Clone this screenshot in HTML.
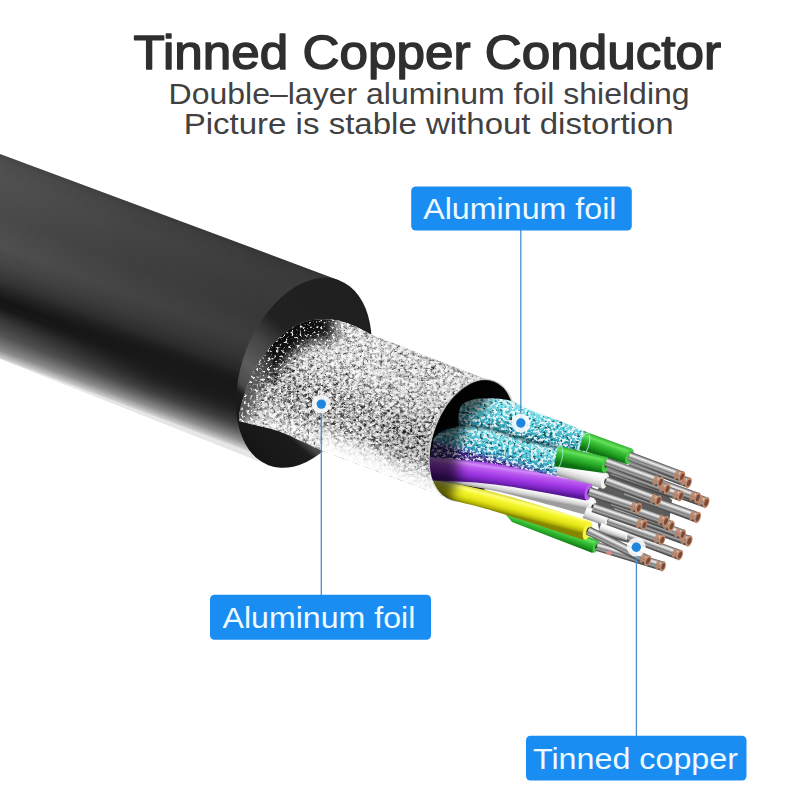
<!DOCTYPE html>
<html><head><meta charset="utf-8"><title>Tinned Copper Conductor</title>
<style>html,body{margin:0;padding:0;background:#fff;width:800px;height:800px;overflow:hidden}svg{display:block}</style>
</head><body>
<svg width="800" height="800" viewBox="0 0 800 800">
<defs>
<linearGradient id="gBody" gradientUnits="userSpaceOnUse" x1="0" y1="154" x2="-67.2" y2="333.9">
<stop offset="0" stop-color="#4a4a4a"/><stop offset="0.03" stop-color="#525252"/><stop offset="0.12" stop-color="#565656"/>
<stop offset="0.30" stop-color="#505050"/><stop offset="0.45" stop-color="#575757"/><stop offset="0.55" stop-color="#494949"/>
<stop offset="0.62" stop-color="#383838"/><stop offset="0.67" stop-color="#262626"/><stop offset="0.71" stop-color="#171717"/><stop offset="0.75" stop-color="#1a1a1a"/>
<stop offset="0.81" stop-color="#3a3a3a"/><stop offset="0.883" stop-color="#575757"/><stop offset="0.956" stop-color="#8a8a8a"/><stop offset="0.993" stop-color="#cccccc"/><stop offset="1" stop-color="#e6e6e6"/>
</linearGradient>
<linearGradient id="gBodyX" gradientUnits="userSpaceOnUse" x1="0" y1="0" x2="330" y2="124">
<stop offset="0" stop-color="#000" stop-opacity="0"/><stop offset="0.3" stop-color="#000" stop-opacity="0.1"/><stop offset="0.6" stop-color="#000" stop-opacity="0.2"/><stop offset="1" stop-color="#000" stop-opacity="0.3"/>
</linearGradient>
<linearGradient id="gFace" gradientUnits="userSpaceOnUse" x1="340" y1="280" x2="268" y2="466">
<stop offset="0" stop-color="#1f1f1f"/><stop offset="0.4" stop-color="#212121"/><stop offset="0.52" stop-color="#444"/><stop offset="0.66" stop-color="#5c5c5c"/><stop offset="0.75" stop-color="#4a4a4a"/><stop offset="0.79" stop-color="#1c1c1c"/><stop offset="1" stop-color="#141414"/>
</linearGradient>
<linearGradient id="gMaskB" gradientUnits="userSpaceOnUse" x1="0" y1="154" x2="-67.2" y2="333.9"><stop offset="0" stop-color="#fff"/><stop offset="0.66" stop-color="#fff"/><stop offset="0.8" stop-color="#000"/><stop offset="1" stop-color="#000"/></linearGradient>
<mask id="mBody" maskUnits="userSpaceOnUse" x="-10" y="100" width="400" height="420"><rect x="-10" y="100" width="400" height="420" fill="url(#gMaskB)"/></mask>
<linearGradient id="gMaskB2" gradientUnits="userSpaceOnUse" x1="0" y1="154" x2="-67.2" y2="333.9"><stop offset="0" stop-color="#000"/><stop offset="0.62" stop-color="#000"/><stop offset="0.71" stop-color="#fff"/><stop offset="0.8" stop-color="#fff"/><stop offset="0.95" stop-color="#000"/><stop offset="1" stop-color="#000"/></linearGradient>
<mask id="mBody2" maskUnits="userSpaceOnUse" x="-10" y="100" width="400" height="420"><rect x="-10" y="100" width="400" height="420" fill="url(#gMaskB2)"/></mask>
<linearGradient id="gBodyX2" gradientUnits="userSpaceOnUse" x1="110" y1="0" x2="270" y2="60"><stop offset="0" stop-color="#1a1a1a" stop-opacity="0"/><stop offset="0.5" stop-color="#1a1a1a" stop-opacity="0.4"/><stop offset="1" stop-color="#1a1a1a" stop-opacity="0.85"/></linearGradient>
<filter id="fDark" x="0" y="0" width="1" height="1" color-interpolation-filters="sRGB">
<feTurbulence type="fractalNoise" baseFrequency="0.3 0.34" numOctaves="2" seed="4"/>
<feColorMatrix type="matrix" values="0 0 0 0 0  0 0 0 0 0  0 0 0 0 0  7 0 0 0 -3.9"/>
<feComposite operator="in" in2="SourceGraphic"/></filter>
<filter id="fDark2" x="0" y="0" width="1" height="1" color-interpolation-filters="sRGB">
<feTurbulence type="fractalNoise" baseFrequency="0.22 0.26" numOctaves="2" seed="11"/>
<feColorMatrix type="matrix" values="0 0 0 0 0  0 0 0 0 0  0 0 0 0 0  0 6 0 0 -3.1"/>
<feComposite operator="in" in2="SourceGraphic"/></filter>
<filter id="fLight" x="0" y="0" width="1" height="1" color-interpolation-filters="sRGB">
<feTurbulence type="fractalNoise" baseFrequency="0.32 0.36" numOctaves="2" seed="23"/>
<feColorMatrix type="matrix" values="0 0 0 0 1  0 0 0 0 1  0 0 0 0 1  0 0 7 0 -3.3"/>
<feComposite operator="in" in2="SourceGraphic"/></filter>
<filter id="fLight2" x="0" y="0" width="1" height="1" color-interpolation-filters="sRGB">
<feTurbulence type="fractalNoise" baseFrequency="0.34 0.38" numOctaves="2" seed="57"/>
<feColorMatrix type="matrix" values="0 0 0 0 1  0 0 0 0 1  0 0 0 0 1  0 7 0 0 -3.95"/>
<feComposite operator="in" in2="SourceGraphic"/></filter>
<filter id="fCrease" x="0" y="0" width="1" height="1" color-interpolation-filters="sRGB">
<feTurbulence type="turbulence" baseFrequency="0.11 0.13" numOctaves="3" seed="5"/>
<feColorMatrix type="matrix" values="0 0 0 0 0  0 0 0 0 0  0 0 0 0 0  -7 0 0 0 1.25"/>
<feComposite operator="in" in2="SourceGraphic"/></filter>
<filter id="fGrey" x="0" y="0" width="1" height="1" color-interpolation-filters="sRGB">
<feTurbulence type="fractalNoise" baseFrequency="0.25 0.3" numOctaves="3" seed="8"/>
<feColorMatrix type="matrix" values="2.4 0 0 0 -0.45  2.4 0 0 0 -0.45  2.4 0 0 0 -0.45  0 0 0 0 1"/>
<feComposite operator="in" in2="SourceGraphic"/></filter>
<clipPath id="cFoil"><path d="M371,334.4 C367.8,332.8 358,327.4 352,325 C346,322.6 340.7,320.9 335,320 C329.3,319.1 323.5,319 318,319.5 C312.5,320 307.2,321.1 302,323 C296.8,324.9 291.5,327.8 287,331 C282.5,334.2 278.7,338.2 275,342 C271.3,345.8 268.3,349.7 265,354 C261.7,358.3 258.2,362 255,368 C251.8,374 248.4,383.3 246,390 C243.6,396.7 241.7,402.8 240.5,408 C239.3,413.2 239.2,418.8 239,421 L239,421 C241.7,421.7 249.5,423.7 255,425 C260.5,426.3 266.8,427.5 272,429 C277.2,430.5 281.3,432.1 286,434 C290.7,435.9 295.7,438.6 300,440.6 C304.3,442.6 308.2,444.3 312,446 C315.8,447.7 320.8,450.2 322.5,451 L450,498.8 L495,382.8 Z"/></clipPath>
<clipPath id="cFace"><ellipse cx="303.9" cy="372.8" rx="62" ry="99" transform="rotate(21 303.9 372.8)"/><path d="M330,250 L520,330 L470,540 L290,470 Z"/></clipPath>
<filter id="fBlur6" x="-0.3" y="-0.3" width="1.6" height="1.6"><feGaussianBlur stdDeviation="6"/></filter>
<filter id="fBlur1" x="-0.2" y="-0.5" width="1.4" height="2"><feGaussianBlur stdDeviation="0.8"/></filter>
<filter id="fBlur3" x="-0.3" y="-0.3" width="1.6" height="1.6"><feGaussianBlur stdDeviation="3"/></filter>
<linearGradient id="g1" gradientUnits="userSpaceOnUse" x1="371" y1="334" x2="323.6" y2="455"><stop offset="0" stop-color="#d0d0d0"/><stop offset="0.04" stop-color="#f0f0f0"/><stop offset="0.3" stop-color="#ebebeb"/><stop offset="0.48" stop-color="#d0d0d0"/><stop offset="0.64" stop-color="#9c9c9c"/><stop offset="0.76" stop-color="#b0b0b0"/><stop offset="0.86" stop-color="#ececec"/><stop offset="0.95" stop-color="#fafafa"/><stop offset="1" stop-color="#fff"/></linearGradient>
<linearGradient id="g2" gradientUnits="userSpaceOnUse" x1="371" y1="330" x2="322.2" y2="450.5"><stop offset="0" stop-color="#000" stop-opacity="0.15"/><stop offset="0.3" stop-color="#000" stop-opacity="0.25"/><stop offset="0.6" stop-color="#000" stop-opacity="0.6"/><stop offset="0.8" stop-color="#000" stop-opacity="0.45"/><stop offset="1" stop-color="#000" stop-opacity="0.15"/></linearGradient>
<linearGradient id="g3" gradientUnits="userSpaceOnUse" x1="371" y1="330" x2="322.2" y2="450.5"><stop offset="0" stop-color="#000" stop-opacity="0.1"/><stop offset="0.35" stop-color="#000" stop-opacity="0.2"/><stop offset="0.62" stop-color="#000" stop-opacity="0.75"/><stop offset="0.8" stop-color="#000" stop-opacity="0.4"/><stop offset="1" stop-color="#000" stop-opacity="0.1"/></linearGradient>
<linearGradient id="g4" gradientUnits="userSpaceOnUse" x1="371" y1="330" x2="322.2" y2="450.5"><stop offset="0" stop-color="#fff" stop-opacity="0"/><stop offset="0.8" stop-color="#fff" stop-opacity="0"/><stop offset="0.93" stop-color="#fff" stop-opacity="0.75"/><stop offset="1" stop-color="#fff" stop-opacity="1"/></linearGradient>
<clipPath id="cWire"><ellipse cx="472.2" cy="440.4" rx="39.2" ry="63.2" transform="rotate(20.4 472.2 440.4)"/><path d="M598.8,100 L494.2,381.1 L450.2,499.7 L380.5,687.2 L800,700 L800,90 Z"/></clipPath>
<linearGradient id="g5" gradientUnits="userSpaceOnUse" x1="507.5" y1="400" x2="497.9" y2="439.7"><stop offset="0" stop-color="#8fe6ee"/><stop offset="0.25" stop-color="#6ad8e4"/><stop offset="0.55" stop-color="#3fb8cc"/><stop offset="0.8" stop-color="#2c8ea6"/><stop offset="1" stop-color="#1c5870"/></linearGradient>
<clipPath id="c6"><path d="M458.5,415 C459,413.4 459.6,407.9 461.5,405.5 C463.4,403.1 466.5,401.7 470,400.5 C473.5,399.3 476.2,398.6 482.5,398.5 C488.8,398.4 499.6,398.1 507.5,400 C515.4,401.9 521.2,406.5 530,410 C538.8,413.5 550.4,417.2 560,421 C569.6,424.8 582.9,430.6 587.5,432.5 L580,460 C576.7,459.2 568.3,457 560,455 C551.7,453 538.8,450.2 530,448 C521.2,445.8 515.4,443.3 507.5,442 C499.6,440.7 490.1,441.3 482.5,440 C474.9,438.7 466,437.3 462,434 C458,430.7 459.1,422.3 458.5,420 Z"/></clipPath>
<linearGradient id="g7" gradientUnits="userSpaceOnUse" x1="690.2" y1="478.1" x2="686.8" y2="487.5"><stop offset="0" stop-color="#505050"/><stop offset="0.12" stop-color="#a0a0a0"/><stop offset="0.28" stop-color="#f2f2f2"/><stop offset="0.42" stop-color="#bcbcbc"/><stop offset="0.56" stop-color="#7c7c7c"/><stop offset="0.7" stop-color="#a6a6a6"/><stop offset="0.86" stop-color="#5a5a5a"/><stop offset="1" stop-color="#363636"/></linearGradient>
<linearGradient id="g8" gradientUnits="userSpaceOnUse" x1="632.1" y1="448.7" x2="626.5" y2="464.2"><stop offset="0" stop-color="#2fae2f"/><stop offset="0.22" stop-color="#66e25a"/><stop offset="0.42" stop-color="#3cc43a"/><stop offset="0.7" stop-color="#22a022"/><stop offset="1" stop-color="#0b6e12"/></linearGradient>
<linearGradient id="g9" gradientUnits="userSpaceOnUse" x1="683.6" y1="471.8" x2="680.1" y2="481.2"><stop offset="0" stop-color="#505050"/><stop offset="0.12" stop-color="#a0a0a0"/><stop offset="0.28" stop-color="#f2f2f2"/><stop offset="0.42" stop-color="#bcbcbc"/><stop offset="0.56" stop-color="#7c7c7c"/><stop offset="0.7" stop-color="#a6a6a6"/><stop offset="0.86" stop-color="#5a5a5a"/><stop offset="1" stop-color="#363636"/></linearGradient>
<linearGradient id="g10" gradientUnits="userSpaceOnUse" x1="707.7" y1="497.5" x2="704.3" y2="507.5"><stop offset="0" stop-color="#505050"/><stop offset="0.12" stop-color="#a0a0a0"/><stop offset="0.28" stop-color="#f2f2f2"/><stop offset="0.42" stop-color="#bcbcbc"/><stop offset="0.56" stop-color="#7c7c7c"/><stop offset="0.7" stop-color="#a6a6a6"/><stop offset="0.86" stop-color="#5a5a5a"/><stop offset="1" stop-color="#363636"/></linearGradient>
<linearGradient id="g11" gradientUnits="userSpaceOnUse" x1="699.2" y1="493.1" x2="695.8" y2="502.5"><stop offset="0" stop-color="#505050"/><stop offset="0.12" stop-color="#a0a0a0"/><stop offset="0.28" stop-color="#f2f2f2"/><stop offset="0.42" stop-color="#bcbcbc"/><stop offset="0.56" stop-color="#7c7c7c"/><stop offset="0.7" stop-color="#a6a6a6"/><stop offset="0.86" stop-color="#5a5a5a"/><stop offset="1" stop-color="#363636"/></linearGradient>
<linearGradient id="g12" gradientUnits="userSpaceOnUse" x1="607.2" y1="473.3" x2="602.6" y2="488.6"><stop offset="0" stop-color="#dcdcdc"/><stop offset="0.22" stop-color="#ffffff"/><stop offset="0.5" stop-color="#f2f2f2"/><stop offset="0.8" stop-color="#cfcfcf"/><stop offset="1" stop-color="#9c9c9c"/></linearGradient>
<linearGradient id="g13" gradientUnits="userSpaceOnUse" x1="495" y1="430" x2="486.6" y2="460.4"><stop offset="0" stop-color="#86e2ec"/><stop offset="0.3" stop-color="#5ed2e2"/><stop offset="0.62" stop-color="#3cb0c8"/><stop offset="0.8" stop-color="#3a94c0"/><stop offset="0.91" stop-color="#4a58b0"/><stop offset="1" stop-color="#40288a"/></linearGradient>
<clipPath id="c14"><path d="M434,438 C435,437.1 437.3,434.1 440,432.5 C442.7,430.9 446.2,429.6 450,428.5 C453.8,427.4 457.8,426.2 462.5,426 C467.2,425.8 472.6,426.3 478,427 C483.4,427.7 487.2,427.8 495,430 C502.8,432.2 514.2,437 525,440 C535.8,443 554.2,446.7 560,448 L556,477 C550.8,476 535.2,473 525,471 C514.8,469 505.8,466.8 495,465 C484.2,463.2 470.8,461.7 460,460.5 C449.2,459.3 435,458.4 430,458 Z"/></clipPath>
<linearGradient id="g15" gradientUnits="userSpaceOnUse" x1="607" y1="456.9" x2="603.3" y2="473"><stop offset="0" stop-color="#2fae2f"/><stop offset="0.22" stop-color="#66e25a"/><stop offset="0.42" stop-color="#3cc43a"/><stop offset="0.7" stop-color="#22a022"/><stop offset="1" stop-color="#0b6e12"/></linearGradient>
<linearGradient id="g16" gradientUnits="userSpaceOnUse" x1="699.3" y1="512.6" x2="695.8" y2="522.5"><stop offset="0" stop-color="#505050"/><stop offset="0.12" stop-color="#a0a0a0"/><stop offset="0.28" stop-color="#f2f2f2"/><stop offset="0.42" stop-color="#bcbcbc"/><stop offset="0.56" stop-color="#7c7c7c"/><stop offset="0.7" stop-color="#a6a6a6"/><stop offset="0.86" stop-color="#5a5a5a"/><stop offset="1" stop-color="#363636"/></linearGradient>
<linearGradient id="g17" gradientUnits="userSpaceOnUse" x1="690.8" y1="536.1" x2="687.3" y2="546"><stop offset="0" stop-color="#505050"/><stop offset="0.12" stop-color="#a0a0a0"/><stop offset="0.28" stop-color="#f2f2f2"/><stop offset="0.42" stop-color="#bcbcbc"/><stop offset="0.56" stop-color="#7c7c7c"/><stop offset="0.7" stop-color="#a6a6a6"/><stop offset="0.86" stop-color="#5a5a5a"/><stop offset="1" stop-color="#363636"/></linearGradient>
<linearGradient id="g18" gradientUnits="userSpaceOnUse" x1="684.2" y1="529.7" x2="680.8" y2="539.1"><stop offset="0" stop-color="#505050"/><stop offset="0.12" stop-color="#a0a0a0"/><stop offset="0.28" stop-color="#f2f2f2"/><stop offset="0.42" stop-color="#bcbcbc"/><stop offset="0.56" stop-color="#7c7c7c"/><stop offset="0.7" stop-color="#a6a6a6"/><stop offset="0.86" stop-color="#5a5a5a"/><stop offset="1" stop-color="#363636"/></linearGradient>
<linearGradient id="g19" gradientUnits="userSpaceOnUse" x1="682.3" y1="491.3" x2="679" y2="500.7"><stop offset="0" stop-color="#505050"/><stop offset="0.12" stop-color="#a0a0a0"/><stop offset="0.28" stop-color="#f2f2f2"/><stop offset="0.42" stop-color="#bcbcbc"/><stop offset="0.56" stop-color="#7c7c7c"/><stop offset="0.7" stop-color="#a6a6a6"/><stop offset="0.86" stop-color="#5a5a5a"/><stop offset="1" stop-color="#363636"/></linearGradient>
<linearGradient id="g20" gradientUnits="userSpaceOnUse" x1="672.9" y1="521.3" x2="669.7" y2="530.7"><stop offset="0" stop-color="#505050"/><stop offset="0.12" stop-color="#a0a0a0"/><stop offset="0.28" stop-color="#f2f2f2"/><stop offset="0.42" stop-color="#bcbcbc"/><stop offset="0.56" stop-color="#7c7c7c"/><stop offset="0.7" stop-color="#a6a6a6"/><stop offset="0.86" stop-color="#5a5a5a"/><stop offset="1" stop-color="#363636"/></linearGradient>
<linearGradient id="g21" gradientUnits="userSpaceOnUse" x1="667.3" y1="516.6" x2="664" y2="526"><stop offset="0" stop-color="#505050"/><stop offset="0.12" stop-color="#a0a0a0"/><stop offset="0.28" stop-color="#f2f2f2"/><stop offset="0.42" stop-color="#bcbcbc"/><stop offset="0.56" stop-color="#7c7c7c"/><stop offset="0.7" stop-color="#a6a6a6"/><stop offset="0.86" stop-color="#5a5a5a"/><stop offset="1" stop-color="#363636"/></linearGradient>
<linearGradient id="g22" gradientUnits="userSpaceOnUse" x1="598" y1="540" x2="593.6" y2="553.4"><stop offset="0" stop-color="#2fae2f"/><stop offset="0.22" stop-color="#66e25a"/><stop offset="0.42" stop-color="#3cc43a"/><stop offset="0.7" stop-color="#22a022"/><stop offset="1" stop-color="#0b6e12"/></linearGradient>
<linearGradient id="g23" gradientUnits="userSpaceOnUse" x1="495" y1="479" x2="492.8" y2="490.6"><stop offset="0" stop-color="#dcdcdc"/><stop offset="0.22" stop-color="#ffffff"/><stop offset="0.5" stop-color="#f2f2f2"/><stop offset="0.8" stop-color="#cfcfcf"/><stop offset="1" stop-color="#9c9c9c"/></linearGradient>
<linearGradient id="g24" gradientUnits="userSpaceOnUse" x1="610.1" y1="514.9" x2="605.7" y2="526"><stop offset="0" stop-color="#dcdcdc"/><stop offset="0.22" stop-color="#ffffff"/><stop offset="0.5" stop-color="#f2f2f2"/><stop offset="0.8" stop-color="#cfcfcf"/><stop offset="1" stop-color="#9c9c9c"/></linearGradient>
<linearGradient id="g25" gradientUnits="userSpaceOnUse" x1="629.4" y1="531.7" x2="626.5" y2="540.2"><stop offset="0" stop-color="#dcdcdc"/><stop offset="0.22" stop-color="#ffffff"/><stop offset="0.5" stop-color="#f2f2f2"/><stop offset="0.8" stop-color="#cfcfcf"/><stop offset="1" stop-color="#9c9c9c"/></linearGradient>
<linearGradient id="g26" gradientUnits="userSpaceOnUse" x1="495" y1="492.5" x2="490.5" y2="510"><stop offset="0" stop-color="#d6d62a"/><stop offset="0.2" stop-color="#ffff7a"/><stop offset="0.38" stop-color="#f6f62e"/><stop offset="0.65" stop-color="#e4e418"/><stop offset="0.85" stop-color="#bcbc08"/><stop offset="1" stop-color="#868600"/></linearGradient>
<linearGradient id="g27" gradientUnits="userSpaceOnUse" x1="495" y1="463.8" x2="492.1" y2="484.1"><stop offset="0" stop-color="#a444dc"/><stop offset="0.18" stop-color="#d08af8"/><stop offset="0.32" stop-color="#bc5cf0"/><stop offset="0.6" stop-color="#a238e6"/><stop offset="0.82" stop-color="#8228c8"/><stop offset="1" stop-color="#5a1898"/></linearGradient>
<linearGradient id="g28" gradientUnits="userSpaceOnUse" x1="681.4" y1="550.3" x2="678" y2="559.7"><stop offset="0" stop-color="#505050"/><stop offset="0.12" stop-color="#a0a0a0"/><stop offset="0.28" stop-color="#f2f2f2"/><stop offset="0.42" stop-color="#bcbcbc"/><stop offset="0.56" stop-color="#7c7c7c"/><stop offset="0.7" stop-color="#a6a6a6"/><stop offset="0.86" stop-color="#5a5a5a"/><stop offset="1" stop-color="#363636"/></linearGradient>
<linearGradient id="g29" gradientUnits="userSpaceOnUse" x1="668.8" y1="484.2" x2="665.5" y2="493.6"><stop offset="0" stop-color="#505050"/><stop offset="0.12" stop-color="#a0a0a0"/><stop offset="0.28" stop-color="#f2f2f2"/><stop offset="0.42" stop-color="#bcbcbc"/><stop offset="0.56" stop-color="#7c7c7c"/><stop offset="0.7" stop-color="#a6a6a6"/><stop offset="0.86" stop-color="#5a5a5a"/><stop offset="1" stop-color="#363636"/></linearGradient>
<linearGradient id="g30" gradientUnits="userSpaceOnUse" x1="664.2" y1="561.8" x2="661.5" y2="570.9"><stop offset="0" stop-color="#505050"/><stop offset="0.12" stop-color="#a0a0a0"/><stop offset="0.28" stop-color="#f2f2f2"/><stop offset="0.42" stop-color="#bcbcbc"/><stop offset="0.56" stop-color="#7c7c7c"/><stop offset="0.7" stop-color="#a6a6a6"/><stop offset="0.86" stop-color="#5a5a5a"/><stop offset="1" stop-color="#363636"/></linearGradient>
<linearGradient id="g31" gradientUnits="userSpaceOnUse" x1="663.6" y1="535.3" x2="660.3" y2="544.7"><stop offset="0" stop-color="#505050"/><stop offset="0.12" stop-color="#a0a0a0"/><stop offset="0.28" stop-color="#f2f2f2"/><stop offset="0.42" stop-color="#bcbcbc"/><stop offset="0.56" stop-color="#7c7c7c"/><stop offset="0.7" stop-color="#a6a6a6"/><stop offset="0.86" stop-color="#5a5a5a"/><stop offset="1" stop-color="#363636"/></linearGradient>
<linearGradient id="g32" gradientUnits="userSpaceOnUse" x1="662.1" y1="477.4" x2="658.7" y2="486.8"><stop offset="0" stop-color="#505050"/><stop offset="0.12" stop-color="#a0a0a0"/><stop offset="0.28" stop-color="#f2f2f2"/><stop offset="0.42" stop-color="#bcbcbc"/><stop offset="0.56" stop-color="#7c7c7c"/><stop offset="0.7" stop-color="#a6a6a6"/><stop offset="0.86" stop-color="#5a5a5a"/><stop offset="1" stop-color="#363636"/></linearGradient>
<linearGradient id="g33" gradientUnits="userSpaceOnUse" x1="659.9" y1="495.9" x2="656.4" y2="505.3"><stop offset="0" stop-color="#505050"/><stop offset="0.12" stop-color="#a0a0a0"/><stop offset="0.28" stop-color="#f2f2f2"/><stop offset="0.42" stop-color="#bcbcbc"/><stop offset="0.56" stop-color="#7c7c7c"/><stop offset="0.7" stop-color="#a6a6a6"/><stop offset="0.86" stop-color="#5a5a5a"/><stop offset="1" stop-color="#363636"/></linearGradient>
<linearGradient id="g34" gradientUnits="userSpaceOnUse" x1="650" y1="556.1" x2="645.6" y2="565.1"><stop offset="0" stop-color="#505050"/><stop offset="0.12" stop-color="#a0a0a0"/><stop offset="0.28" stop-color="#f2f2f2"/><stop offset="0.42" stop-color="#bcbcbc"/><stop offset="0.56" stop-color="#7c7c7c"/><stop offset="0.7" stop-color="#a6a6a6"/><stop offset="0.86" stop-color="#5a5a5a"/><stop offset="1" stop-color="#363636"/></linearGradient>
<linearGradient id="g35" gradientUnits="userSpaceOnUse" x1="645.6" y1="520.3" x2="642.4" y2="529.8"><stop offset="0" stop-color="#505050"/><stop offset="0.12" stop-color="#a0a0a0"/><stop offset="0.28" stop-color="#f2f2f2"/><stop offset="0.42" stop-color="#bcbcbc"/><stop offset="0.56" stop-color="#7c7c7c"/><stop offset="0.7" stop-color="#a6a6a6"/><stop offset="0.86" stop-color="#5a5a5a"/><stop offset="1" stop-color="#363636"/></linearGradient>
<linearGradient id="g36" gradientUnits="userSpaceOnUse" x1="640" y1="503.4" x2="636.9" y2="512.9"><stop offset="0" stop-color="#505050"/><stop offset="0.12" stop-color="#a0a0a0"/><stop offset="0.28" stop-color="#f2f2f2"/><stop offset="0.42" stop-color="#bcbcbc"/><stop offset="0.56" stop-color="#7c7c7c"/><stop offset="0.7" stop-color="#a6a6a6"/><stop offset="0.86" stop-color="#5a5a5a"/><stop offset="1" stop-color="#363636"/></linearGradient>
<clipPath id="cOpen"><ellipse cx="472.2" cy="440.4" rx="39.2" ry="63.2" transform="rotate(20.4 472.2 440.4)"/></clipPath>
</defs>
<rect width="800" height="800" fill="#fff"/>
<text x="133.6" y="69.2" font-size="48.5" font-weight="normal" fill="#2f2f2f" textLength="587.5" lengthAdjust="spacingAndGlyphs" font-family="'Liberation Sans', sans-serif" stroke="#2f2f2f" stroke-width="1.5" stroke-linejoin="round">Tinned Copper Conductor</text>
<text x="168.6" y="103.8" font-size="29" font-weight="normal" fill="#414141" textLength="521" lengthAdjust="spacingAndGlyphs" font-family="'Liberation Sans', sans-serif" >Double–layer aluminum foil shielding</text>
<text x="183.7" y="134" font-size="29" font-weight="normal" fill="#414141" textLength="490" lengthAdjust="spacingAndGlyphs" font-family="'Liberation Sans', sans-serif" >Picture is stable without distortion</text>
<path d="M-5,152.1 L339.4,280.4 L303.9,372.8 L268.4,465.2 L-5,357 Z" fill="url(#gBody)"/>
<path d="M-5,152.1 L339.4,280.4 L303.9,372.8 L268.4,465.2 L-5,357 Z" fill="url(#gBodyX)" mask="url(#mBody)"/>
<path d="M-5,152.1 L339.4,280.4 L303.9,372.8 L268.4,465.2 L-5,357 Z" fill="url(#gBodyX2)" mask="url(#mBody2)"/>
<ellipse cx="303.9" cy="372.8" rx="62" ry="99" transform="rotate(21 303.9 372.8)" fill="url(#gFace)"/>
<g clip-path="url(#cFace)"><g clip-path="url(#cFoil)">
<rect x="230" y="280" width="290" height="240" fill="url(#g1)"/>
<rect x="230" y="280" width="290" height="240" fill="#888" filter="url(#fGrey)" opacity="0.42"/>
<rect x="230" y="280" width="290" height="240" fill="#3a3a3a" filter="url(#fCrease)" opacity="0.6"/>
<rect x="230" y="280" width="290" height="240" fill="url(#g2)" filter="url(#fDark)"/>
<rect x="230" y="280" width="290" height="240" fill="url(#g3)" filter="url(#fDark2)"/>
<rect x="230" y="280" width="290" height="240" fill="#fff" filter="url(#fLight)" opacity="0.6"/>
<path d="M335,320 C332.2,319.9 323.5,319 318,319.5 C312.5,320 307.2,321.1 302,323 C296.8,324.9 291.5,327.8 287,331 C282.5,334.2 278.7,338.2 275,342 C271.3,345.8 268.3,349.7 265,354 C261.7,358.3 256.7,365.7 255,368" fill="none" stroke="#101010" stroke-width="44" filter="url(#fBlur6)" opacity="0.95"/>
<path d="M318,319.5 C315.3,320.1 307.2,321.1 302,323 C296.8,324.9 291.5,327.8 287,331 C282.5,334.2 278.7,338.2 275,342 C271.3,345.8 266.7,352 265,354" fill="none" stroke="#0c0c0c" stroke-width="22" filter="url(#fBlur3)" opacity="0.9"/>
<path d="M265,354 C263.3,356.3 258.2,362 255,368 C251.8,374 248.4,383.3 246,390 C243.6,396.7 241.7,402.8 240.5,408 C239.3,413.2 239.2,418.8 239,421" fill="none" stroke="#555" stroke-width="26" filter="url(#fBlur6)" opacity="0.95"/>
<path d="M255,368 C253.5,371.7 248.4,383.3 246,390 C243.6,396.7 241.7,402.8 240.5,408 C239.3,413.2 239.2,418.8 239,421" fill="none" stroke="#5a5a5a" stroke-width="12" filter="url(#fBlur3)" opacity="0.9"/>
<rect x="230" y="300" width="150" height="160" fill="#fff" filter="url(#fLight2)" opacity="0.9"/>
<path d="M326,316.8 L495,382.8 L450,498.8 L322,450.8 Z" fill="url(#g4)"/>
</g></g>
<ellipse cx="472.2" cy="440.4" rx="39.2" ry="63.2" transform="rotate(20.4 472.2 440.4)" fill="#060608" stroke="#cfcfcf" stroke-width="1.4"/>
<g clip-path="url(#cWire)" id="wires">
<path d="M458.5,415 C459,413.4 459.6,407.9 461.5,405.5 C463.4,403.1 466.5,401.7 470,400.5 C473.5,399.3 476.2,398.6 482.5,398.5 C488.8,398.4 499.6,398.1 507.5,400 C515.4,401.9 521.2,406.5 530,410 C538.8,413.5 550.4,417.2 560,421 C569.6,424.8 582.9,430.6 587.5,432.5 L580,460 C576.7,459.2 568.3,457 560,455 C551.7,453 538.8,450.2 530,448 C521.2,445.8 515.4,443.3 507.5,442 C499.6,440.7 490.1,441.3 482.5,440 C474.9,438.7 466,437.3 462,434 C458,430.7 459.1,422.3 458.5,420 Z" fill="url(#g5)" />
<g clip-path="url(#c6)"><rect x="440" y="390" width="160" height="90" fill="#042830" filter="url(#fDark)" opacity="0.55"/><rect x="440" y="390" width="160" height="90" fill="#eaffff" filter="url(#fLight)" opacity="0.85"/></g>
<path d="M631.6,456.7L690.2,478.1 L686.8,487.5L628.4,465.3 Z" fill="url(#g7)" />
<g transform="translate(688.5 482.8) rotate(20.4)"><ellipse rx="3" ry="5.6" fill="#c48a6a"/><ellipse cx="0.4" rx="1.7" ry="3.6" fill="#7a4a38"/><ellipse cx="-5.5" rx="2.2" ry="5.2" fill="#b88468" opacity="0.85"/></g>
<path d="M585,431.5L632.1,448.7 L626.9,464.3L579,449.5 Z" fill="url(#g8)" />
<g transform="translate(629.5 456.5) rotate(18.6)"><ellipse rx="3.5" ry="8.2" fill="#48c846"/><ellipse cx="0.5" rx="1.3" ry="3.1" fill="#1a5a1a"/></g>
<path d="M630.7,451.7L683.6,471.8 L680,481.2L627.3,460.3 Z" fill="url(#g9)" />
<g transform="translate(681.8 476.5) rotate(21.2)"><ellipse rx="3" ry="5.6" fill="#c48a6a"/><ellipse cx="0.4" rx="1.7" ry="3.6" fill="#7a4a38"/><ellipse cx="-5.5" rx="2.2" ry="5.2" fill="#b88468" opacity="0.85"/></g>
<ellipse cx="583.5" cy="445.5" rx="5" ry="13" transform="rotate(19 583.5 445.5)" fill="none" stroke="#bff4f8" stroke-width="1.2" opacity="0.7"/>
<path d="M633.6,472.4L707.7,497.5 L704.3,507.5L630.4,481.6 Z" fill="url(#g10)" />
<g transform="translate(706 502.5) rotate(19)"><ellipse rx="3.1" ry="5.9" fill="#c48a6a"/><ellipse cx="0.4" rx="1.8" ry="3.8" fill="#7a4a38"/><ellipse cx="-5.8" rx="2.3" ry="5.5" fill="#b88468" opacity="0.85"/></g>
<path d="M629.6,467.7L699.2,493.1 L695.8,502.5L626.4,476.3 Z" fill="url(#g11)" />
<g transform="translate(697.5 497.8) rotate(20.4)"><ellipse rx="3" ry="5.6" fill="#c48a6a"/><ellipse cx="0.4" rx="1.7" ry="3.6" fill="#7a4a38"/><ellipse cx="-5.5" rx="2.2" ry="5.2" fill="#b88468" opacity="0.85"/></g>
<path d="M606,468 L660,488 L672,500 L668,530 L650,548 L600,536 L594,500 Z" fill="#5c5c5c"/>
<path d="M554.4,457.3L607.2,473.3 L602.8,488.7L549.6,473.7 Z" fill="url(#g12)" />
<g transform="translate(605 481) rotate(16.3)"><ellipse rx="3.4" ry="8" fill="#f4f4f4"/><ellipse cx="0.5" rx="1.3" ry="3" fill="#555"/></g>
<path d="M434,438 C435,437.1 437.3,434.1 440,432.5 C442.7,430.9 446.2,429.6 450,428.5 C453.8,427.4 457.8,426.2 462.5,426 C467.2,425.8 472.6,426.3 478,427 C483.4,427.7 487.2,427.8 495,430 C502.8,432.2 514.2,437 525,440 C535.8,443 554.2,446.7 560,448 L556,477 C550.8,476 535.2,473 525,471 C514.8,469 505.8,466.8 495,465 C484.2,463.2 470.8,461.7 460,460.5 C449.2,459.3 435,458.4 430,458 Z" fill="url(#g13)" />
<g clip-path="url(#c14)"><rect x="425" y="420" width="140" height="60" fill="#042830" filter="url(#fDark)" opacity="0.5"/><rect x="425" y="420" width="140" height="60" fill="#eaffff" filter="url(#fLight)" opacity="0.8"/></g>
<path d="M440,432.5 C441.7,431.8 446.2,429.6 450,428.5 C453.8,427.4 457.8,426.2 462.5,426 C467.2,425.8 472.6,426.3 478,427 C483.4,427.7 487.2,427.8 495,430 C502.8,432.2 514.2,437 525,440 C535.8,443 554.2,446.7 560,448" fill="none" stroke="#06222c" stroke-width="2.6" opacity="0.6" filter="url(#fBlur1)"/>
<path d="M557.9,445.7L607,456.9 L604,473.1L554.1,466.3 Z" fill="url(#g15)" />
<g transform="translate(605.5 465) rotate(10.3)"><ellipse rx="3.5" ry="8.2" fill="#48c846"/><ellipse cx="0.5" rx="1.3" ry="3.1" fill="#1a5a1a"/></g>
<ellipse cx="557.5" cy="458.5" rx="4.5" ry="12.5" transform="rotate(14 557.5 458.5)" fill="none" stroke="#bff4f8" stroke-width="1.2" opacity="0.6"/>
<path d="M626.7,486.5L699.3,512.6 L695.7,522.4L623.3,495.5 Z" fill="url(#g16)" />
<g transform="translate(697.5 517.5) rotate(20.1)"><ellipse rx="3.1" ry="5.9" fill="#c48a6a"/><ellipse cx="0.4" rx="1.8" ry="3.8" fill="#7a4a38"/><ellipse cx="-5.8" rx="2.3" ry="5.5" fill="#b88468" opacity="0.85"/></g>
<path d="M623.6,512.5L690.8,536.1 L687.2,545.9L620.4,521.5 Z" fill="url(#g17)" />
<g transform="translate(689 541) rotate(19.7)"><ellipse rx="3.1" ry="5.9" fill="#c48a6a"/><ellipse cx="0.4" rx="1.8" ry="3.8" fill="#7a4a38"/><ellipse cx="-5.8" rx="2.3" ry="5.5" fill="#b88468" opacity="0.85"/></g>
<path d="M619.6,506.7L684.2,529.7 L680.8,539.1L616.4,515.3 Z" fill="url(#g18)" />
<g transform="translate(682.5 534.4) rotate(19.9)"><ellipse rx="3" ry="5.6" fill="#c48a6a"/><ellipse cx="0.4" rx="1.7" ry="3.6" fill="#7a4a38"/><ellipse cx="-5.5" rx="2.2" ry="5.2" fill="#b88468" opacity="0.85"/></g>
<path d="M613.5,467.7L682.3,491.3 L678.9,500.7L610.5,476.3 Z" fill="url(#g19)" />
<g transform="translate(680.6 496) rotate(19.3)"><ellipse rx="3" ry="5.6" fill="#c48a6a"/><ellipse cx="0.4" rx="1.7" ry="3.6" fill="#7a4a38"/><ellipse cx="-5.5" rx="2.2" ry="5.2" fill="#b88468" opacity="0.85"/></g>
<path d="M616.5,502.2L672.9,521.3 L669.7,530.7L613.5,510.8 Z" fill="url(#g20)" />
<g transform="translate(671.3 526) rotate(19.1)"><ellipse rx="3" ry="5.6" fill="#c48a6a"/><ellipse cx="0.4" rx="1.7" ry="3.6" fill="#7a4a38"/><ellipse cx="-5.5" rx="2.2" ry="5.2" fill="#b88468" opacity="0.85"/></g>
<path d="M613.6,497.7L667.3,516.6 L663.9,526L610.4,506.3 Z" fill="url(#g21)" />
<g transform="translate(665.6 521.3) rotate(19.8)"><ellipse rx="3" ry="5.6" fill="#c48a6a"/><ellipse cx="0.4" rx="1.7" ry="3.6" fill="#7a4a38"/><ellipse cx="-5.5" rx="2.2" ry="5.2" fill="#b88468" opacity="0.85"/></g>
<path d="M500,508L598,540 L592.5,553L512,522 Z" fill="url(#g22)" />
<g transform="translate(596 546.5) rotate(20)"><ellipse rx="2.7" ry="6.5" fill="#48c846"/><ellipse cx="0.4" rx="1" ry="2.5" fill="#1a5a1a"/></g>
<path d="M430,468 C440.8,469.8 468.3,473.9 495,479 C521.7,484.1 574.2,495.2 590,498.5 L590,516 C574.2,511.8 521.2,496.8 495,491 C468.8,485.2 443.3,482.7 433,481 Z" fill="url(#g23)" />
<g transform="translate(592 507.3) rotate(17)"><ellipse rx="3.6" ry="8.5" fill="#f6f6f6"/><ellipse cx="0.5" rx="1.4" ry="3.2" fill="#333"/></g>
<path d="M587.3,505.9L610.1,514.9 L605.9,526.1L582.7,518.1 Z" fill="url(#g24)" />
<g transform="translate(608 520.5) rotate(20.3)"><ellipse rx="2.5" ry="6" fill="#f0f0f0"/><ellipse cx="0.4" rx="1" ry="2.3" fill="#444"/></g>
<path d="M601.5,522.2L629.4,531.7 L626.6,540.3L598.5,531.8 Z" fill="url(#g25)" />
<g transform="translate(628 536) rotate(17.8)"><ellipse rx="1.9" ry="4.5" fill="#f0f0f0"/><ellipse cx="0.3" rx="0.7" ry="1.7" fill="#555"/></g>
<path d="M426,478.5 C437.5,480.8 467.7,485.4 495,492.5 C522.3,499.6 574.2,516.2 590,521 L583,540 C568.3,535.2 515.9,517.9 495,511.5 C474.1,505.1 465.4,503.8 457.5,501.5 C449.6,499.2 452.1,500.1 447.5,497.5 C442.9,494.9 432.9,487.9 430,486 Z" fill="url(#g26)" />
<g transform="translate(587.5 530.5) rotate(18)"><ellipse rx="4" ry="9.5" fill="#f4f440"/><ellipse cx="0.6" rx="1.5" ry="3.6" fill="#4a4a10"/></g>
<path d="M428,457 C439.2,458.1 475.5,461 495,463.8 C514.5,466.5 529.2,470.4 545,473.8 C560.8,477.1 582.5,482.1 590,483.8 L586,500.5 C570.8,497.8 521.3,487.8 495,484.5 C468.7,481.2 439.2,481.2 428,480.5 Z" fill="url(#g27)" />
<g transform="translate(588.5 492) rotate(14)"><ellipse rx="3.6" ry="8.5" fill="#b860ee"/><ellipse cx="0.5" rx="1.4" ry="3.2" fill="#3a1060"/></g>
<path d="M629.6,531.7L681.4,550.3 L678,559.7L626.4,540.3 Z" fill="url(#g28)" />
<g transform="translate(679.7 555) rotate(20.2)"><ellipse rx="3" ry="5.6" fill="#c48a6a"/><ellipse cx="0.4" rx="1.7" ry="3.6" fill="#7a4a38"/><ellipse cx="-5.5" rx="2.2" ry="5.2" fill="#b88468" opacity="0.85"/></g>
<path d="M609.6,463.2L668.8,484.2 L665.4,493.6L606.4,471.8 Z" fill="url(#g29)" />
<g transform="translate(667.1 488.9) rotate(19.9)"><ellipse rx="3" ry="5.6" fill="#c48a6a"/><ellipse cx="0.4" rx="1.7" ry="3.6" fill="#7a4a38"/><ellipse cx="-5.5" rx="2.2" ry="5.2" fill="#b88468" opacity="0.85"/></g>
<path d="M598.3,542.3L664.2,561.8 L661.4,570.8L595.7,550.7 Z" fill="url(#g30)" />
<g transform="translate(662.8 566.3) rotate(16.7)"><ellipse rx="2.9" ry="5.3" fill="#c48a6a"/><ellipse cx="0.4" rx="1.6" ry="3.4" fill="#7a4a38"/><ellipse cx="-5.2" rx="2.1" ry="4.9" fill="#b88468" opacity="0.85"/></g>
<path d="M609.6,516.2L663.6,535.3 L660.2,544.7L606.4,524.8 Z" fill="url(#g31)" />
<g transform="translate(661.9 540) rotate(19.9)"><ellipse rx="3" ry="5.6" fill="#c48a6a"/><ellipse cx="0.4" rx="1.7" ry="3.6" fill="#7a4a38"/><ellipse cx="-5.5" rx="2.2" ry="5.2" fill="#b88468" opacity="0.85"/></g>
<path d="M607.6,457.7L662.1,477.4 L658.7,486.8L604.4,466.3 Z" fill="url(#g32)" />
<g transform="translate(660.4 482.1) rotate(20.3)"><ellipse rx="3" ry="5.6" fill="#c48a6a"/><ellipse cx="0.4" rx="1.7" ry="3.6" fill="#7a4a38"/><ellipse cx="-5.5" rx="2.2" ry="5.2" fill="#b88468" opacity="0.85"/></g>
<path d="M607.6,476.7L659.9,495.9 L656.3,505.3L604.4,485.3 Z" fill="url(#g33)" />
<g transform="translate(658.1 500.6) rotate(20.6)"><ellipse rx="3" ry="5.6" fill="#c48a6a"/><ellipse cx="0.4" rx="1.7" ry="3.6" fill="#7a4a38"/><ellipse cx="-5.5" rx="2.2" ry="5.2" fill="#b88468" opacity="0.85"/></g>
<path d="M590.1,526.4L650,556.1 L645.6,565.1L585.9,534.6 Z" fill="url(#g34)" />
<g transform="translate(647.8 560.6) rotate(26.7)"><ellipse rx="3" ry="5.6" fill="#c48a6a"/><ellipse cx="0.4" rx="1.7" ry="3.6" fill="#7a4a38"/><ellipse cx="-5.5" rx="2.2" ry="5.2" fill="#b88468" opacity="0.85"/></g>
<path d="M594.5,503.1L645.6,520.3 L642.4,529.7L591.5,511.9 Z" fill="url(#g35)" />
<g transform="translate(644 525) rotate(18.9)"><ellipse rx="3" ry="5.6" fill="#c48a6a"/><ellipse cx="0.4" rx="1.7" ry="3.6" fill="#7a4a38"/><ellipse cx="-5.5" rx="2.2" ry="5.2" fill="#b88468" opacity="0.85"/></g>
<path d="M590.5,487.1L640,503.4 L636.8,512.8L587.5,495.9 Z" fill="url(#g36)" />
<g transform="translate(638.4 508.1) rotate(18.6)"><ellipse rx="3" ry="5.6" fill="#c48a6a"/><ellipse cx="0.4" rx="1.7" ry="3.6" fill="#7a4a38"/><ellipse cx="-5.5" rx="2.2" ry="5.2" fill="#b88468" opacity="0.85"/></g>
<ellipse cx="609" cy="553" rx="3" ry="2" fill="#f08a8a" opacity="0.8"/>
<g clip-path="url(#cOpen)"><path d="M494.2,381.1 A39.2,63.2 20.4 0 0 450.2,499.7" fill="none" stroke="#000" stroke-width="56" opacity="0.62" filter="url(#fBlur6)"/></g>
</g>
<line x1="520.8" y1="230" x2="520.8" y2="423" stroke="#4f8dc8" stroke-width="1.3"/>
<line x1="321.3" y1="404" x2="321.3" y2="596" stroke="#4f8dc8" stroke-width="1.3"/>
<line x1="636.4" y1="547" x2="636.4" y2="737" stroke="#4f8dc8" stroke-width="1.3"/>
<rect x="411.2" y="186.5" width="220.6" height="44" rx="4.5" fill="#1a8df3"/>
<text x="423.2" y="219" font-size="29.6" font-weight="normal" fill="#eefaff" textLength="193.3" lengthAdjust="spacingAndGlyphs" font-family="'Liberation Sans', sans-serif" >Aluminum foil</text>
<rect x="210" y="594.8" width="221" height="45" rx="4.5" fill="#1a8df3"/>
<text x="222.5" y="627.8" font-size="29.6" font-weight="normal" fill="#eefaff" textLength="192.8" lengthAdjust="spacingAndGlyphs" font-family="'Liberation Sans', sans-serif" >Aluminum foil</text>
<rect x="526" y="735.8" width="220.5" height="44.7" rx="4.5" fill="#1a8df3"/>
<text x="532.9" y="769" font-size="29.6" font-weight="normal" fill="#eefaff" textLength="205.1" lengthAdjust="spacingAndGlyphs" font-family="'Liberation Sans', sans-serif" >Tinned copper</text>
<circle cx="520.8" cy="423" r="9.4" fill="#fff" fill-opacity="0.85"/><circle cx="520.8" cy="423" r="4.7" fill="#1e86e0"/>
<circle cx="321.3" cy="404.1" r="9.4" fill="#fff" fill-opacity="0.85"/><circle cx="321.3" cy="404.1" r="4.7" fill="#1e86e0"/>
<circle cx="636.3" cy="547.2" r="9.4" fill="#fff" fill-opacity="0.85"/><circle cx="636.3" cy="547.2" r="4.7" fill="#1e86e0"/>
</svg>
</body></html>
